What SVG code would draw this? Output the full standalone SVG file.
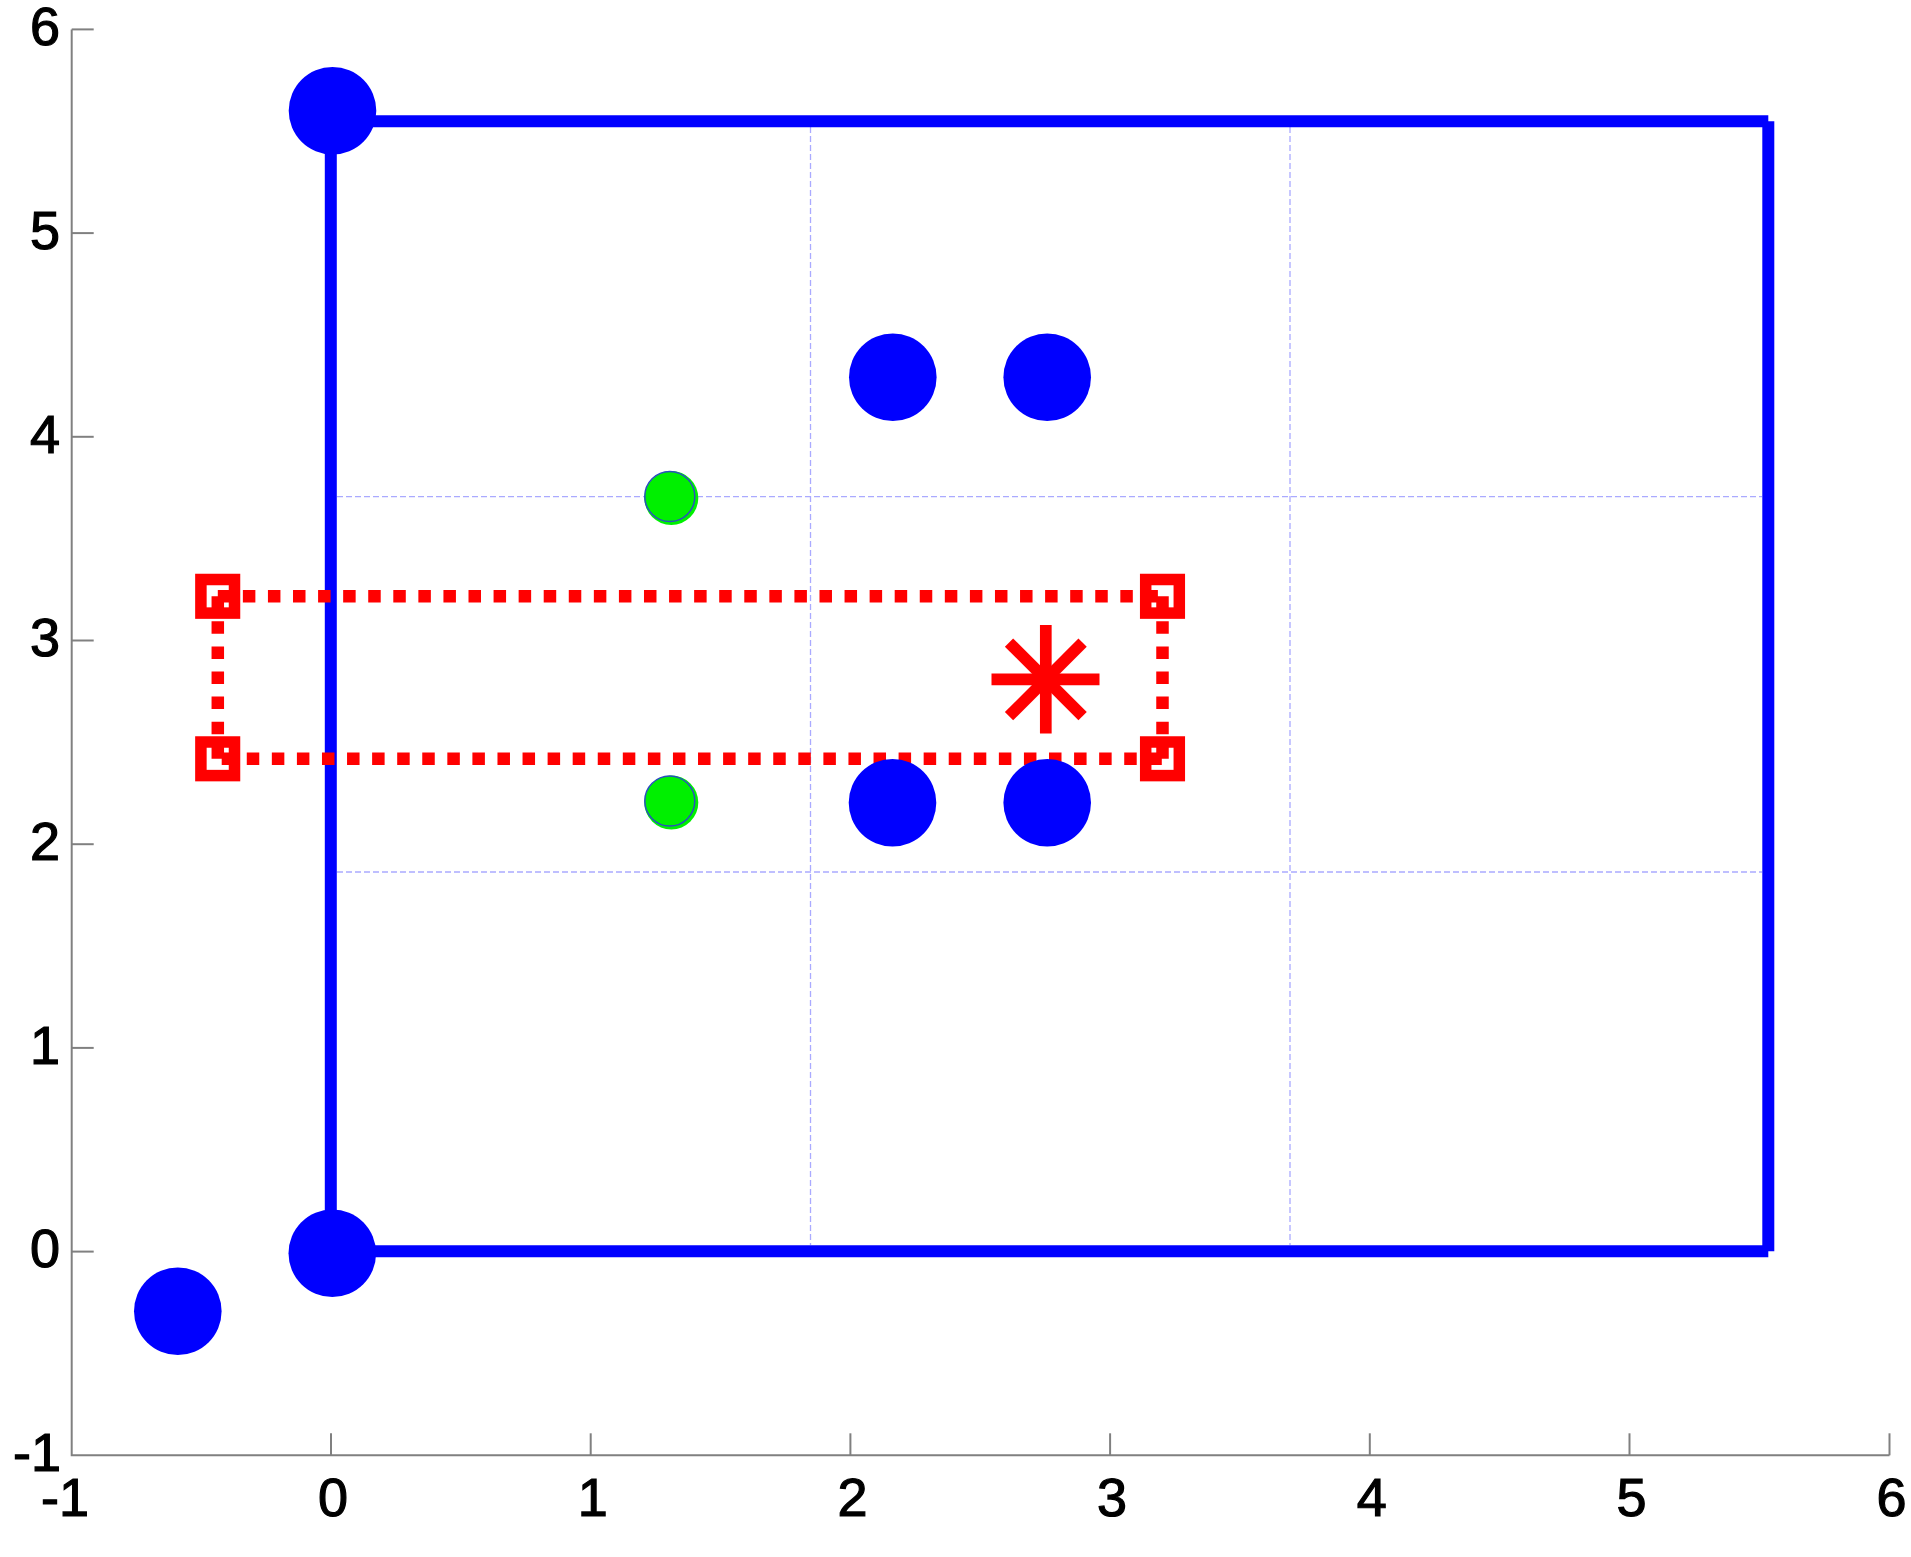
<svg xmlns="http://www.w3.org/2000/svg" width="1911" height="1557" viewBox="0 0 1911 1557">
<style>
.ax{stroke:#808080;stroke-width:2;fill:none}
.grid{stroke:#aaaaff;stroke-width:1.3;stroke-dasharray:6 3;fill:none}
.lbl{font-family:"Liberation Sans",Arial,sans-serif;font-size:54px;fill:#000;stroke:#000;stroke-width:1.2}
.blue{stroke:#0000ff;stroke-width:12;fill:none;stroke-linecap:butt}
.rdot{stroke:#ff0000;stroke-width:12.5;fill:none;stroke-dasharray:12.5 12.57;stroke-linecap:butt}
.rsq{stroke:#ff0000;stroke-width:11.5;fill:none}
.bc{fill:#0000ff}
.gc{fill:#00f000}
.go{fill:none;stroke:#2a4fbf;stroke-width:1.5}
.ast{stroke:#ff0000;stroke-width:11.7;stroke-linecap:butt}
</style>
<rect width="1911" height="1557" fill="#ffffff"/>
<g id="grid">
<line class="grid" x1="810.5" y1="127" x2="810.5" y2="1245"/>
<line class="grid" x1="1290" y1="127" x2="1290" y2="1245"/>
<line class="grid" x1="337" y1="496.7" x2="1762" y2="496.7"/>
<line class="grid" x1="337" y1="872" x2="1762" y2="872"/>
</g>
<g id="axes">
<polyline class="ax" points="71.7,29.4 71.7,1455.3 1889.5,1455.3"/>
<g class="ax">
<line x1="331" y1="1455.3" x2="331" y2="1433.3"/>
<line x1="590.7" y1="1455.3" x2="590.7" y2="1433.3"/>
<line x1="850.4" y1="1455.3" x2="850.4" y2="1433.3"/>
<line x1="1110.1" y1="1455.3" x2="1110.1" y2="1433.3"/>
<line x1="1369.8" y1="1455.3" x2="1369.8" y2="1433.3"/>
<line x1="1629.5" y1="1455.3" x2="1629.5" y2="1433.3"/>
<line x1="1889.5" y1="1455.3" x2="1889.5" y2="1433.3"/>
<line x1="71.7" y1="29.4" x2="93.7" y2="29.4"/>
<line x1="71.7" y1="233.1" x2="93.7" y2="233.1"/>
<line x1="71.7" y1="436.8" x2="93.7" y2="436.8"/>
<line x1="71.7" y1="640.5" x2="93.7" y2="640.5"/>
<line x1="71.7" y1="844.2" x2="93.7" y2="844.2"/>
<line x1="71.7" y1="1047.9" x2="93.7" y2="1047.9"/>
<line x1="71.7" y1="1251.6" x2="93.7" y2="1251.6"/>
</g>
<g class="lbl" text-anchor="middle">
<text x="65" y="1516">-1</text>
<text x="333" y="1516">0</text>
<text x="592.7" y="1516">1</text>
<text x="852.4" y="1516">2</text>
<text x="1112.1" y="1516">3</text>
<text x="1371.8" y="1516">4</text>
<text x="1631.5" y="1516">5</text>
<text x="1891.5" y="1516">6</text>
</g>
<g class="lbl" text-anchor="end">
<text x="60" y="45">6</text>
<text x="60" y="248.8">5</text>
<text x="60" y="452.5">4</text>
<text x="60" y="656.2">3</text>
<text x="60" y="859.9">2</text>
<text x="60" y="1063.6">1</text>
<text x="60" y="1267.3">0</text>
<text x="61" y="1470.8">-1</text>
</g>
</g>
<g id="connectors">
<g id="blue-frame">
<line class="blue" x1="331" y1="121.3" x2="1768.3" y2="121.3"/>
<line class="blue" x1="1768.3" y1="121.3" x2="1768.3" y2="1251.2"/>
<line class="blue" x1="331" y1="1251.2" x2="1768.3" y2="1251.2"/>
<line class="blue" x1="330.8" y1="110.8" x2="330.8" y2="1253"/>
</g>
<g id="red-box">
<line class="rdot" x1="217.8" y1="596.3" x2="1162.5" y2="596.3"/>
<line class="rdot" x1="217.8" y1="758.8" x2="1162.5" y2="758.8" stroke-dashoffset="-3.9"/>
<line class="rdot" x1="217.8" y1="596.3" x2="217.8" y2="758.8"/>
<line class="rdot" x1="1162.5" y1="596.3" x2="1162.5" y2="758.8"/>
</g>
</g>
<g id="red-markers">
<rect class="rsq" x="200.9" y="579.5" width="33.6" height="33.6"/>
<rect class="rsq" x="1145.7" y="579.5" width="33.6" height="33.6"/>
<rect class="rsq" x="200.9" y="742" width="33.6" height="33.6"/>
<rect class="rsq" x="1145.7" y="742" width="33.6" height="33.6"/>
</g>
<g id="green-points">
<circle class="gc" cx="671.3" cy="498" r="27"/>
<circle class="go" cx="669.8" cy="496.5" r="25"/>
<circle class="gc" cx="671.3" cy="802.5" r="27"/>
<circle class="go" cx="669.8" cy="801" r="25"/>
</g>
<g id="node-p00"><circle class="bc" cx="332.3" cy="1253.3" r="43.8"/></g>
<g id="node-p06"><circle class="bc" cx="332.5" cy="110.7" r="43.8"/></g>
<g id="node-neg"><circle class="bc" cx="177.8" cy="1311.3" r="43.8"/></g>
<g id="node-a"><circle class="bc" cx="892.8" cy="377.2" r="43.8"/></g>
<g id="node-b"><circle class="bc" cx="1047.2" cy="377.2" r="43.8"/></g>
<g id="node-c"><circle class="bc" cx="892.5" cy="802.8" r="43.8"/></g>
<g id="node-d"><circle class="bc" cx="1047.2" cy="802.8" r="43.8"/></g>
<g id="asterisk" class="ast">
<line x1="1045.8" y1="625" x2="1045.8" y2="733.5"/>
<line x1="991.5" y1="679.4" x2="1099.5" y2="679.4"/>
<line x1="1009" y1="642.6" x2="1082.6" y2="716.2"/>
<line x1="1082.6" y1="642.6" x2="1009" y2="716.2"/>
</g>
</svg>
